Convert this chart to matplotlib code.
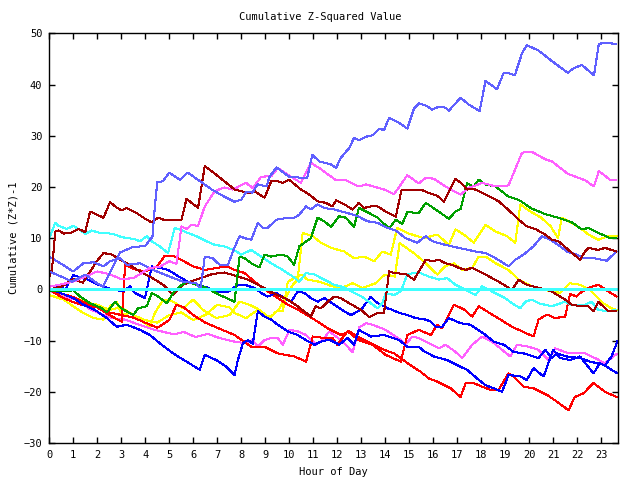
import matplotlib

matplotlib.use("Agg")
import matplotlib.pyplot as plt

# ---- data (hour, cumulative value) ----
MB1_H = [0.0, 0.5, 0.94, 1.5, 1.9, 2.24, 2.6, 2.95, 3.45, 4.0, 4.3, 4.4, 4.5, 4.73, 5.0, 5.44, 5.77, 6.35, 6.77, 7.3,
         7.72, 8.0, 8.22, 8.47, 8.68, 9.05, 9.18, 9.47, 10.0, 10.5, 10.75, 10.96, 11.25, 11.74, 11.95, 12.15, 12.5, 12.7,
         12.9, 13.26, 13.47, 13.75, 13.95, 14.16, 14.58, 14.92, 15.2, 15.4, 15.69, 15.96, 16.24, 16.5, 16.65, 17.14,
         17.48, 17.93, 18.18, 18.45, 18.66, 18.94, 19.14, 19.4, 19.7, 19.9, 20.4, 20.94, 21.6, 21.9, 22.2, 22.7, 22.9,
         23.16, 23.63]
MB1_V = [3.5, 2.5, 1.5, 2.9, 1.5, 0.5, 4.0, 7.2, 8.2, 8.5, 10.3, 16.2, 20.9, 21.1, 22.8, 21.4, 22.8, 20.9, 19.5, 18.1,
         17.1, 17.5, 19.1, 18.9, 20.5, 20.1, 22.0, 23.8, 22.0, 21.8, 21.8, 26.3, 25.0, 24.4, 23.7, 25.7, 27.6, 29.6,
         29.1, 29.9, 30.1, 31.4, 31.1, 33.5, 32.5, 31.4, 35.3, 36.3, 35.9, 35.1, 35.7, 35.5, 34.9, 37.4,
         36.1, 34.8, 40.7, 39.8, 39.1, 42.3, 42.2, 41.8, 46.1, 47.7, 46.6, 44.6, 42.3, 43.3, 43.8, 41.8, 47.9,
         48.2, 47.9]

MB2_H = [0.0, 0.46, 1.0, 1.42, 1.84, 2.26, 2.53, 2.95, 3.23, 3.78, 4.33, 5.02, 5.58, 6.13, 6.3, 6.48, 6.8, 7.1, 7.45,
         7.65, 7.93, 8.14, 8.42, 8.69, 8.9, 9.1, 9.46, 9.94, 10.22, 10.42, 10.7, 10.9, 11.18, 11.46, 11.88, 12.43,
         12.85, 13.26, 13.68, 14.09, 14.44, 14.85, 15.33, 15.69, 15.96, 16.5, 17.07, 17.76, 18.18, 18.6, 19.14, 19.42,
         19.77, 20.18, 20.53, 20.88, 21.29, 21.57, 21.98, 22.26, 22.68, 23.23, 23.64]
MB2_V = [6.4, 5.1, 3.5, 5.1, 5.3, 4.5, 5.5, 6.1, 4.8, 5.1, 3.8, 2.5, 1.5, 1.2, 0.0, 6.4, 6.1, 4.8, 4.8,
         7.4, 10.4, 10.0, 9.7, 13.0, 12.0, 12.0, 13.6, 14.0, 14.0, 14.6, 16.2, 15.6, 16.6, 15.9, 15.6, 14.9,
         14.3, 13.3, 13.0, 12.0, 11.5, 10.0, 9.1, 10.4, 9.4, 8.7, 8.1, 7.4, 7.1, 6.1, 4.5, 5.8,
         6.8, 8.4, 10.4, 9.7, 8.4, 7.4, 6.8, 6.1, 6.1, 5.6, 7.4]

MAG1_H = [0.0, 0.5, 1.0, 1.5, 2.0, 2.5, 3.0, 3.5, 4.2, 4.6, 5.0, 5.3, 5.51, 5.72, 5.93, 6.2, 6.48, 6.9, 7.3, 7.65,
          8.2, 8.48, 8.83, 9.25, 9.52, 9.94, 10.49, 10.9, 11.25, 11.95, 12.36, 12.9, 13.2, 13.95, 14.37, 14.92, 15.4,
          15.69, 16.03, 16.5, 17.14, 17.48, 18.04, 18.6, 19.14, 19.7, 20.1, 20.67, 20.94, 21.6, 22.33, 22.7, 22.9,
          23.37, 23.63]
MAG1_V = [0.5, 1.0, 1.5, 2.5, 3.5, 3.0, 2.0, 2.2, 4.2, 4.4, 5.5, 5.0, 12.3, 11.8, 12.6, 12.4, 16.2, 19.2, 19.9, 19.5,
          20.8, 19.8, 22.0, 22.1, 23.7, 22.4, 20.8, 24.7, 23.7, 21.3, 21.3, 20.1, 20.5, 19.5, 18.6, 22.3, 20.7,
          21.8, 21.6, 20.1, 18.5, 19.8, 20.8, 20.1, 20.3, 26.7, 26.9, 25.4, 25.0, 22.6, 21.3, 20.1, 23.1,
          21.4, 21.3]

MAG2_H = [0.0, 0.11, 0.53, 0.8, 1.22, 1.63, 2.05, 2.6, 3.16, 3.57, 3.99, 4.4, 4.68, 5.2, 5.6, 6.1, 6.6, 7.1, 7.72,
          8.14, 8.48, 8.69, 8.97, 9.25, 9.52, 9.73, 10.01, 10.35, 10.7, 11.12, 11.39, 11.67, 12.01, 12.36, 12.64,
          12.92, 13.2, 13.47, 14.02, 14.65, 14.85, 15.13, 15.4, 15.82, 16.24, 16.51, 16.93, 17.21, 17.62, 18.04,
          18.45, 18.87, 19.21, 19.49, 19.98, 20.39, 20.8, 21.08, 21.64, 22.33, 22.74, 23.16, 23.64]
MAG2_V = [0.0, -0.4, -1.4, -1.7, -2.0, -3.7, -4.6, -5.6, -5.9, -6.6, -7.3, -7.9, -8.2, -8.8, -8.3, -9.3, -8.7, -9.5,
          -10.2, -10.5, -9.9, -11.2, -9.9, -9.5, -9.5, -10.8, -7.9, -8.2, -8.9, -10.8, -9.9, -8.2, -9.4, -10.8,
          -12.3, -7.4, -6.6, -6.9, -7.9, -9.9, -10.8, -9.2, -9.5, -10.5, -11.5, -10.8, -12.2, -13.4, -10.8, -9.2,
          -10.2, -11.8, -13.1, -10.8, -11.2, -11.8, -13.8, -11.5, -12.5, -12.5, -13.4, -14.4, -12.6]

GRN_H = [0.0, 1.0, 1.29, 1.7, 2.19, 2.4, 2.74, 3.0, 3.5, 3.7, 4.06, 4.27, 4.54, 4.9, 5.16, 5.44, 5.72, 6.13, 6.55,
         7.1, 7.72, 7.93, 8.14, 8.42, 8.76, 8.97, 9.25, 9.66, 9.94, 10.2, 10.42, 10.63, 10.9, 11.18, 11.46, 11.74,
         12.08, 12.36, 12.7, 12.9, 13.33, 13.68, 14.16, 14.44, 14.71, 14.92, 15.4, 15.69, 16.1, 16.65, 16.93, 17.14,
         17.41, 17.69, 17.9, 18.18, 18.6, 19.14, 19.56, 20.1, 20.67, 21.2, 21.77, 22.2, 22.47, 22.9, 23.37, 23.63]
GRN_V = [-0.4, -0.2, -1.4, -2.7, -3.7, -4.5, -2.4, -3.7, -5.0, -3.7, -3.3, -0.7, -1.4, -2.7, -0.7, 0.6, 1.5, 0.9, 0.3,
         -1.1, -2.4, 6.4, 6.1, 5.1, 4.3, 6.8, 6.4, 6.8, 6.4, 4.8, 8.4, 9.1, 10.0, 14.0, 13.3, 12.2,
         14.3, 14.0, 12.2, 15.9, 14.9, 14.0, 11.9, 13.6, 12.8, 15.1, 14.9, 16.9, 15.6, 13.8, 15.2, 15.7,
         20.7, 20.1, 21.4, 20.5, 20.1, 18.1, 17.5, 15.8, 14.7, 14.0, 13.1, 11.7, 12.0, 11.0, 10.0, 10.0]

DRED1_H = [0.0, 0.11, 0.25, 0.39, 0.6, 0.87, 1.22, 1.5, 1.7, 1.98, 2.26, 2.53, 2.81, 3.02, 3.23, 3.64, 3.99, 4.26,
           4.54, 4.82, 5.1, 5.51, 5.72, 5.93, 6.2, 6.48, 6.76, 7.03, 7.38, 7.72, 8.0, 8.28, 8.55, 8.97, 9.25, 9.52,
           9.73, 10.0, 10.49, 10.84, 11.18, 11.53, 11.8, 11.95, 12.3, 12.64, 12.9, 13.12, 13.4, 13.68, 14.02, 14.44,
           14.68, 14.92, 15.2, 15.48, 15.82, 16.17, 16.45, 16.93, 17.2, 17.41, 17.69, 17.9, 18.31, 18.73, 19.21,
           19.56, 19.9, 20.25, 20.67, 20.94, 21.22, 21.64, 22.12, 22.33, 22.47, 22.88, 23.16, 23.43, 23.63]
DRED1_V = [2.5, 3.8, 11.3, 11.5, 10.9, 11.0, 11.8, 11.2, 15.2, 14.6, 14.0, 17.0, 16.0, 15.4, 15.9, 14.9, 13.8, 13.1,
           14.0, 13.5, 13.5, 13.6, 17.7, 16.9, 15.9, 24.1, 23.1, 22.1, 20.8, 19.5, 19.2, 18.8, 19.2, 17.9, 21.1, 21.1,
           20.8, 21.4, 19.5, 18.5, 17.2, 16.9, 16.2, 17.4, 16.6, 15.6, 16.9, 15.9, 16.2, 16.2, 15.2, 14.2,
           19.4, 19.4, 19.4, 19.5, 18.8, 18.3, 17.1, 21.6, 20.6, 19.5, 19.6, 19.2, 18.2, 17.2, 15.2,
           13.6, 12.3, 11.8, 10.7, 9.7, 9.4, 7.7, 5.8, 7.4, 8.1, 7.7, 8.1, 7.7, 7.4]

DRED2_H = [0.0, 0.5, 1.0, 1.4, 1.98, 2.26, 2.6, 2.95, 3.23, 3.78, 4.19, 4.4, 4.75, 5.16, 5.58, 5.86, 6.3, 6.8, 7.3,
           7.8, 8.28, 8.69, 9.1, 9.52, 9.94, 10.35, 10.9, 11.1, 11.32, 11.6, 11.88, 12.15, 12.5, 12.99, 13.33, 13.68,
           13.95, 14.16, 14.37, 14.85, 15.2, 15.69, 15.96, 16.24, 16.5, 16.79, 17.07, 17.35, 17.62, 18.18, 18.73,
           19.28, 19.56, 19.9, 20.39, 20.94, 21.5, 21.77, 22.2, 22.47, 22.68, 22.88, 23.3, 23.63]
DRED2_V = [0.0, 0.5, 2.0, 1.3, 5.5, 7.1, 6.8, 5.8, 5.1, 3.5, 2.5, 1.9, 0.9, -1.1, 0.9, 1.5, 2.2, 3.0, 3.3,
           2.6, 1.9, 0.9, -0.1, -1.1, -2.0, -3.3, -5.3, -3.3, -3.7, -2.4, -1.4, -1.7, -2.7, -4.0, -5.4, -4.6,
           -4.6, 3.5, 3.2, 3.0, 1.9, 5.8, 5.5, 5.8, 5.1, 4.8, 4.2, 3.8, 4.2, 2.9, 1.5,
           -0.1, 1.9, 0.9, 0.3, -0.4, -2.0, -3.0, -3.3, -3.3, -4.3, -2.4, -4.3, -4.3]

CYN1_H = [0.0, 0.25, 0.39, 0.73, 1.0, 1.22, 1.5, 1.77, 2.05, 2.4, 2.67, 3.02, 3.3, 3.57, 3.78, 4.06, 4.27, 4.6, 4.95,
          5.23, 5.44, 5.78, 6.13, 6.55, 6.89, 7.3, 7.72, 8.0, 8.42, 8.83, 9.25, 9.73, 10.15, 10.42, 10.7, 11.05,
          11.46, 11.88, 12.29, 12.64, 13.05, 13.4, 13.68, 13.88, 14.02, 14.37, 14.65, 14.92, 15.4, 15.82, 16.24,
          16.58, 16.93, 17.35, 17.76, 18.04, 18.45, 19.0, 19.28, 19.63, 19.84, 20.11, 20.39, 20.94, 21.5, 21.77,
          22.33, 22.6, 22.88, 23.3, 23.63]
CYN1_V = [10.0, 13.0, 12.4, 11.8, 12.4, 11.8, 10.8, 11.5, 11.1, 11.0, 10.8, 10.2, 10.0, 9.8, 9.4, 10.4, 9.4, 8.4, 7.1,
          12.0, 11.7, 11.0, 10.4, 9.4, 8.7, 8.4, 7.6, 6.8, 7.7, 6.4, 5.1, 3.8, 2.5, 1.5, 3.2, 2.9,
          1.9, 0.9, 0.4, -0.5, -1.5, -2.7, -3.7, -2.7, -0.7, -1.1, -0.4, 3.0, 3.3, 2.5, 1.9,
          2.2, 0.9, -0.1, -1.1, 0.6, -0.4, -1.7, -2.7, -3.7, -2.4, -2.0, -2.7, -3.3, -2.4, -3.0,
          -3.0, -2.4, -4.0, -4.3, -4.0]

CYN2_H = [0.0, 23.7]
CYN2_V = [0.0, 0.0]

YEL1_H = [0.0, 0.6, 1.0, 1.42, 1.84, 2.26, 2.53, 2.81, 3.02, 3.36, 3.78, 4.19, 4.4, 4.75, 5.16, 5.58, 5.99, 6.41,
          6.96, 7.52, 7.93, 8.35, 8.76, 9.18, 9.6, 9.87, 10.15, 10.35, 10.56, 10.98, 11.32, 11.74, 12.29, 12.7, 13.12,
          13.54, 13.88, 14.23, 14.5, 14.92, 15.33, 15.6, 16.17, 16.65, 16.93, 17.28, 17.69, 18.18, 18.6, 19.07,
          19.42, 19.63, 20.05, 20.5, 20.9, 21.2, 21.36, 21.77, 22.2, 22.47, 22.88, 23.3, 23.64]
YEL1_V = [-1.1, -2.0, -3.3, -4.6, -5.6, -5.9, -3.3, -2.4, -5.0, -4.6, -5.9, -7.3, -4.6, -2.0, -2.4, -3.7, -2.0, -4.0,
          -5.6, -5.0, -2.4, -3.0, -4.0, -5.6, -3.7, -1.4, 0.9, 1.9, 11.0, 10.4, 9.1, 8.1, 7.4, 6.1, 6.4,
          5.5, 7.4, 6.8, 12.0, 11.0, 10.4, 10.0, 10.7, 8.7, 11.7, 10.7, 9.1, 12.6, 11.3, 10.4,
          9.1, 16.6, 15.2, 14.0, 12.3, 10.0, 14.0, 13.0, 11.7, 10.7, 9.7, 10.4, 10.5]

YEL2_H = [0.0, 0.5, 1.0, 1.5, 2.0, 2.5, 3.0, 3.5, 4.0, 4.5, 5.0, 5.5, 6.0, 6.5, 7.0, 7.5, 7.72, 8.2, 8.69, 8.97,
          9.25, 9.46, 9.73, 9.94, 10.49, 10.77, 11.25, 11.8, 12.2, 12.64, 13.05, 13.6, 13.88, 14.02, 14.4, 14.6,
          14.71, 15.27, 15.69, 16.17, 16.5, 16.86, 17.21, 17.62, 17.9, 18.18, 18.6, 19.14, 19.56, 19.98, 20.6, 21.0,
          21.29, 21.7, 22.12, 22.54, 22.81, 23.09, 23.43, 23.64]
YEL2_V = [0.0, -1.0, -1.5, -2.5, -3.0, -4.0, -3.5, -5.0, -6.0, -6.5, -5.0, -4.5, -6.0, -5.0, -3.0, -3.5, -4.6, -5.6,
          -4.0, -5.0, -5.3, -4.3, -4.3, 1.5, 2.9, 1.9, 1.5, 0.6, 0.3, 1.2, 0.3, 1.2, 2.5, 2.9, 2.5, 9.0,
          8.7, 6.8, 5.1, 2.9, 4.5, 5.1, 3.8, 4.2, 6.4, 6.4, 5.1, 3.8, 1.9, 0.9, -0.1, -0.4,
          -0.7, 1.2, 0.9, -0.1, -1.4, -2.7, -3.7, -4.0]

BLU1_H = [0.0, 0.11, 0.39, 0.66, 1.0, 1.36, 1.63, 2.05, 2.4, 2.74, 3.09, 3.36, 3.57, 3.99, 4.27, 4.6, 4.95, 5.4,
          5.78, 6.2, 6.62, 7.03, 7.45, 7.86, 8.14, 8.55, 8.83, 9.1, 9.46, 9.8, 10.08, 10.35, 10.63, 10.9, 11.18,
          11.46, 11.88, 12.29, 12.57, 12.99, 13.4, 13.6, 13.82, 14.1, 14.3, 14.58, 14.92, 15.27, 15.69, 15.9, 16.1,
          16.37, 16.65, 17.14, 17.55, 18.1, 18.52, 18.94, 19.35, 19.77, 20.18, 20.39, 20.67, 20.94, 21.15, 21.57,
          22.12, 22.54, 22.81, 23.16, 23.43, 23.67]
BLU1_V = [0.5, -0.1, 0.9, -0.1, 2.8, 2.2, 1.9, 0.9, 0.3, -0.1, -0.4, 0.6, -0.7, -1.7, 4.5, 4.2, 3.8, 2.5,
          1.5, 0.9, 0.3, -0.5, -0.5, 0.9, 0.9, 0.3, -0.7, -1.4, -0.7, -1.7, -2.4, -0.4, -0.7, -1.7, -2.4,
          -1.7, -3.0, -4.3, -5.0, -4.0, -1.4, -2.4, -3.0, -3.7, -4.0, -4.6, -5.0, -5.6, -5.9, -6.3, -7.3,
          -7.3, -5.6, -6.6, -6.9, -8.6, -10.2, -10.8, -12.2, -12.5, -13.1, -13.4, -11.8, -13.4, -12.5, -13.1,
          -13.4, -14.1, -14.4, -14.8, -13.1, -10.2]

BLU2_H = [0.0, 0.46, 1.0, 1.42, 1.9, 2.4, 2.81, 3.23, 3.78, 4.19, 4.6, 5.16, 5.72, 6.27, 6.48, 6.96, 7.38, 7.72,
          7.86, 8.07, 8.28, 8.48, 8.69, 8.97, 9.25, 9.52, 9.94, 10.35, 10.7, 11.05, 11.32, 11.67, 12.08, 12.43, 12.7,
          12.9, 13.4, 13.95, 14.58, 14.92, 15.4, 15.6, 16.03, 16.58, 17.0, 17.41, 17.83, 18.18, 18.52, 18.87, 19.14,
          19.63, 19.9, 20.18, 20.6, 21.0, 21.29, 21.7, 22.12, 22.68, 22.95, 23.23, 23.64]
BLU2_V = [0.3, -0.7, -1.7, -3.0, -4.0, -5.6, -7.3, -6.9, -7.9, -8.9, -10.5, -12.5, -14.1, -15.7, -12.8, -13.8, -15.1,
          -16.7, -13.8, -10.5, -9.9, -10.6, -4.3, -5.3, -5.9, -6.9, -8.2, -8.9, -9.9, -10.8, -10.2, -9.8, -10.8, -9.5,
          -10.8, -7.9, -9.2, -8.9, -9.9, -11.2, -11.2, -12.0, -13.1, -13.8, -14.8, -15.7, -17.4, -18.7, -19.3, -20.0,
          -16.7, -17.0, -17.7, -15.4, -17.0, -11.8, -13.4, -13.8, -13.1, -16.4, -14.4, -15.1, -16.3]

RED1_H = [0.0, 0.5, 1.0, 1.5, 2.0, 2.5, 3.02, 3.16, 3.5, 4.0, 4.5, 4.8, 5.2, 5.6, 6.0, 6.5, 7.0, 7.4, 7.72, 8.14,
          8.55, 9.1, 9.94, 10.49, 11.05, 11.6, 12.15, 12.5, 12.85, 13.4, 13.95, 14.37, 14.65, 14.92, 15.48, 15.82,
          16.17, 16.72, 17.14, 17.35, 17.69, 18.04, 18.38, 18.73, 19.14, 19.35, 19.77, 20.18, 20.74, 21.15, 21.64,
          21.9, 22.26, 22.68, 23.16, 23.64]
RED1_V = [0.0, -0.8, -1.5, -2.7, -3.5, -5.0, -6.3, 4.8, 4.0, 3.5, 4.5, 6.5, 6.5, 5.5, 4.5, 3.8, 4.2, 4.5, 3.8, 3.2,
          1.5, -0.4, -3.0, -4.3, -5.9, -7.6, -8.9, -8.2, -9.2, -10.5, -11.8, -12.5, -13.4, -14.4, -16.1, -17.4,
          -18.0, -19.3, -21.0, -18.3, -18.3, -19.0, -19.6, -19.6, -16.4, -17.0, -19.0, -19.3, -20.6, -21.9, -23.6,
          -21.0, -20.3, -18.3, -20.0, -21.0]

RED2_H = [0.0, 0.5, 1.0, 1.5, 2.0, 2.5, 3.0, 3.5, 4.0, 4.5, 5.0, 5.3, 5.6, 6.0, 6.5, 7.0, 7.72, 8.42, 8.97, 9.52,
          10.22, 10.7, 10.98, 11.46, 11.8, 12.0, 12.43, 12.9, 13.47, 14.02, 14.65, 14.92, 15.4, 15.9, 16.17, 16.37,
          16.86, 17.28, 17.62, 17.9, 18.45, 18.8, 19.28, 20.18, 20.39, 20.74, 21.08, 21.5, 21.7, 21.98, 22.12, 22.47,
          22.88, 23.3, 23.64]
RED2_V = [0.0, -1.5, -2.5, -3.2, -3.5, -4.5, -5.0, -5.5, -6.5, -7.5, -6.0, -3.0, -3.5, -5.0, -6.5, -7.5, -8.9, -11.2,
          -11.2, -12.5, -13.1, -14.1, -9.2, -9.5, -9.5, -10.8, -8.2, -9.9, -10.8, -12.8, -14.1, -8.9, -7.9, -8.9, -6.9,
          -7.6, -3.0, -3.9, -5.3, -3.3, -4.9, -5.9, -7.3, -9.2, -5.9, -4.9, -5.6, -5.3, -0.9, -1.4, -0.7, 0.3,
          0.9, -0.4, -1.4]

X_TICKS = list(range(0, 24))
Y_TICKS = list(range(-30, 51, 10))

RED = "#ff0000"
DARKRED = "#a00000"
GREEN = "#00a000"
BLUE = "#0000ff"
MIDBLUE = "#6060ff"
MAGENTA = "#ff60ff"
CYAN = "#40ffff"
YELLOW = "#ffff00"

SERIES = [
    (YEL1_H, YEL1_V, YELLOW),
    (YEL2_H, YEL2_V, YELLOW),
    (MAG2_H, MAG2_V, MAGENTA),
    (RED1_H, RED1_V, RED),
    (RED2_H, RED2_V, RED),
    (BLU2_H, BLU2_V, BLUE),
    (BLU1_H, BLU1_V, BLUE),
    (CYN1_H, CYN1_V, CYAN),
    (DRED2_H, DRED2_V, DARKRED),
    (GRN_H, GRN_V, GREEN),
    (MB2_H, MB2_V, MIDBLUE),
    (MAG1_H, MAG1_V, MAGENTA),
    (DRED1_H, DRED1_V, DARKRED),
    (MB1_H, MB1_V, MIDBLUE),
    (CYN2_H, CYN2_V, CYAN),
]

FONT = "DejaVu Sans Mono"

fig = plt.figure(figsize=(6.4, 4.8), dpi=100)
ax = fig.add_axes([0.077, 0.077, 0.8886, 0.8536])

# thin, non-antialiased lines to mimic the gnuplot bitmap look
for hours, vals, col in SERIES:
    ax.plot(hours, vals, color=col, lw=0.75, antialiased=False)

ax.set_xlim(0, 23.7)
ax.set_ylim(-30, 50)
ax.set_xticks(X_TICKS)
ax.set_yticks(Y_TICKS)
ax.tick_params(direction="in", length=4, width=1, top=True, right=True,
               labelsize=7.5, pad=5)
for lab in ax.get_xticklabels() + ax.get_yticklabels():
    lab.set_fontfamily(FONT)
for sp in ax.spines.values():
    sp.set_linewidth(1.0)

ax.set_xlabel("Hour of Day", fontsize=7.5, family=FONT, labelpad=5)
ax.set_ylabel("Cumulative (Z*Z)-1", fontsize=7.5, family=FONT, labelpad=4)
fig.text(0.5, 0.965, "Cumulative Z-Squared Value", ha="center", va="center",
         fontsize=7.5, family=FONT)

fig.savefig("out.png", dpi=100)
